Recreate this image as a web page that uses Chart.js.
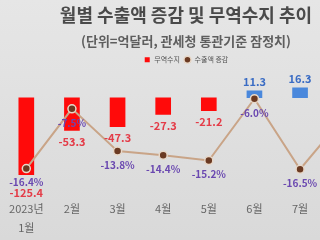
<!DOCTYPE html>
<html>
<head>
<meta charset="utf-8">
<script src="https://cdn.jsdelivr.net/npm/chart.js@4.4.1/dist/chart.umd.min.js"></script>
<style>
html, body { margin: 0; padding: 0; width: 320px; height: 240px; overflow: hidden; }
body { background: linear-gradient(#e6e6e6, #d9d9d9); }
#wrap { position: relative; left: -2px; width: 376px; height: 240px; }
</style>
</head>
<body>
<div id="wrap"><canvas id="chart" width="376" height="240"></canvas></div>
<script>
// 월별 데이터 (8월은 화면 밖)
var months = [['2023년', '1월'], '2월', '3월', '4월', '5월', '6월', '7월', '8월'];
var tradeBalance = [-125.4, -53.3, -47.3, -27.3, -21.2, 11.3, 16.3, 8.7];
var exportChange = [-16.4, -7.5, -13.8, -14.4, -15.2, -6.0, -16.5, -8.4];

var fontKr = "'Noto Sans CJK KR', 'Noto Sans', sans-serif";

// 값 라벨 그리기
var valueLabels = {
    id: 'valueLabels',
    afterDatasetsDraw: function (chart) {
        var ctx = chart.ctx;
        var bars = chart.getDatasetMeta(0).data;
        var points = chart.getDatasetMeta(1).data;
        ctx.save();
        ctx.textAlign = 'center';
        ctx.textBaseline = 'middle';
        points.forEach(function (p, i) {
            var lineY = p.y + 14;
            ctx.font = 'bold 10px ' + fontKr;
            ctx.fillStyle = '#6a48b0';
            ctx.fillText(exportChange[i].toFixed(1) + '%', p.x, lineY);

            var b = bars[i];
            var v = tradeBalance[i];
            var y;
            ctx.font = 'bold 11px ' + fontKr;
            if (v < 0) {
                y = b.y + 11;
                if (Math.abs(y - lineY) < 10) y = lineY + 10;
                ctx.fillStyle = '#e43c48';
            } else {
                y = b.y - 9;
                ctx.fillStyle = '#3a6cc4';
            }
            ctx.fillText(v.toFixed(1), b.x, y);
        });
        ctx.restore();
    }
};

var ctx = document.getElementById('chart').getContext('2d');
var chart = new Chart(ctx, {
    type: 'bar',
    data: {
        labels: months,
        datasets: [{
            type: 'bar',
            label: '무역수지',
            data: tradeBalance,
            yAxisID: 'yBar',
            backgroundColor: tradeBalance.map(v => v < 0 ? '#ff0a0a' : '#4a88dc'),
            barThickness: 15,
            pointStyle: 'rect',
            order: 2
        }, {
            type: 'line',
            label: '수출액 증감',
            data: exportChange,
            yAxisID: 'yLine',
            borderColor: '#c9a487',
            backgroundColor: '#6b3a22',
            borderWidth: 2,
            pointRadius: 4,
            pointBackgroundColor: '#6b3a22',
            pointBorderColor: '#e8d8c8',
            pointBorderWidth: 1.5,
            pointStyle: 'circle',
            tension: 0,
            order: 1
        }]
    },
    options: {
        responsive: false,
        animation: false,
        layout: { padding: 0 },
        plugins: {
            title: {
                display: true,
                text: '월별 수출액 증감 및 무역수지 추이',
                color: '#4a4a4a',
                font: { family: fontKr, size: 18, weight: 'bold' },
                padding: { top: 4, bottom: 5 }
            },
            subtitle: {
                display: true,
                text: '(단위=억달러, 관세청 통관기준 잠정치)',
                color: '#5e5e5e',
                font: { family: fontKr, size: 13, weight: 'bold' },
                padding: { top: 3, bottom: 3 }
            },
            legend: {
                position: 'top',
                labels: {
                    usePointStyle: true,
                    boxWidth: 7,
                    boxHeight: 5,
                    padding: 4,
                    color: '#555555',
                    font: { family: fontKr, size: 7 },
                    sort: (a, b) => a.datasetIndex - b.datasetIndex
                }
            },
            tooltip: { enabled: false }
        },
        scales: {
            x: {
                grid: { display: false },
                border: { display: false },
                ticks: {
                    color: '#666666',
                    padding: 3,
                    maxRotation: 0,
                    font: { family: fontKr, size: 11, lineHeight: 1.7 }
                }
            },
            yBar: {
                display: false,
                position: 'left',
                min: -148.2,
                max: 40.1
            },
            yLine: {
                display: false,
                position: 'right',
                min: -19.38,
                max: -2.2
            }
        }
    },
    plugins: [valueLabels]
});
</script>
</body>
</html>
